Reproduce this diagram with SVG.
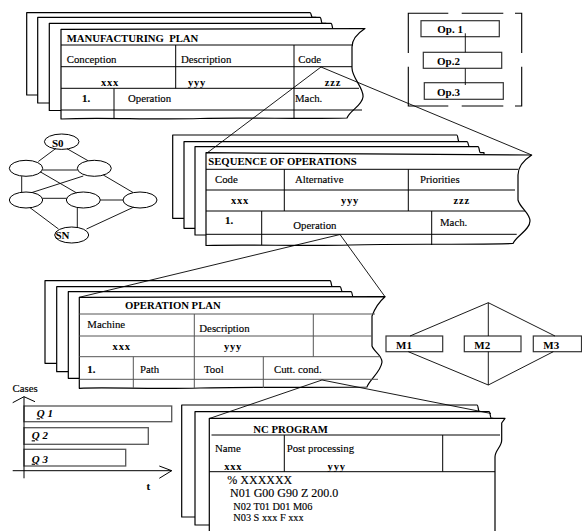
<svg xmlns="http://www.w3.org/2000/svg" width="582" height="531" viewBox="0 0 582 531">
<style>
  .sheet{fill:#fff;stroke:#000;stroke-width:1.2;stroke-linejoin:round}
  .grid{stroke:#000;stroke-width:1;fill:none}
  .gg{stroke:#555;stroke-width:1;fill:none}
  .conn{stroke:#000;stroke-width:0.9;fill:none}
  .node{fill:#fff;stroke:#000;stroke-width:1}
  .box{fill:#fff;stroke:#333;stroke-width:1.2}
  text{font-family:"Liberation Serif","Times New Roman",serif;fill:#000}
  .lb{font-size:10.8px;stroke:#000;stroke-width:0.15}
  .ttl{font-size:10.7px;font-weight:bold}
  .v{font-size:10.5px;font-weight:bold;letter-spacing:0.8px;text-anchor:middle}
  .bd{font-size:11px;font-weight:bold}
  .nc1{font-size:12px;stroke:#000;stroke-width:0.15}
  .nc2{font-size:10.3px;stroke:#000;stroke-width:0.15}
</style>

<!-- Manufacturing plan: stacked sheets -->
<g id="manufacturing-plan">
  <path class="sheet" d="M26.7,95 L26.7,12.7 L310,12.7 C311.5,12.7 311,17.3 312.5,17.3 L316,17.3 L316,95 Z"/>
  <path class="sheet" d="M37.7,103 L37.7,17.3 L320,17.3 C321.5,17.3 321,23.3 322.5,23.3 L326,23.3 L326,103 Z"/>
  <path class="sheet" d="M49.3,110.5 L49.3,23.3 L331,23.3 C332.5,23.3 332,29.3 333.5,29.3 L337,29.3 L337,110.5 Z"/>
  <path class="sheet" d="M61,29.3 L365,28.5 C358,33 352,40 352,47 L352,68 C352,78 364,88 363,97 C362,106 350,110 347,118 C300,119.5 250,117 200,118.5 C150,120 100,117 61,119 Z"/>
  <path class="grid" d="M61,45 H353 M61,66.7 H352 M61,88.3 H359 M61,110 H362 M175.7,45 V88.3 M294,45 V118 M114,88.3 V118"/>
  <text class="ttl" x="66.7" y="41.7">MANUFACTURING&#160; PLAN</text>
  <text class="lb" x="66.7" y="62.7">Conception</text>
  <text class="lb" x="181" y="62.7">Description</text>
  <text class="lb" x="298.3" y="62.7">Code</text>
  <text class="v" x="110" y="85.5">xxx</text>
  <text class="v" x="197" y="85.5">yyy</text>
  <text class="v" x="333" y="85.5">zzz</text>
  <text class="lb" x="82" y="101.5" font-weight="bold">1.</text>
  <text class="lb" x="128" y="101.5">Operation</text>
  <text class="lb" x="295" y="101.5">Mach.</text>
</g>

<!-- Sequence of operations -->
<g id="sequence-of-operations">
  <path class="sheet" d="M172.7,218.3 L172.7,135 L456.7,135 C458.2,135 457.7,141.7 459.2,141.7 L462,141.7 L462,218.3 Z"/>
  <path class="sheet" d="M184,228.3 L184,141.7 L467,141.7 C468.5,141.7 468,146.7 469.5,146.7 L472,146.7 L472,228.3 Z"/>
  <path class="sheet" d="M195,235 L195,146.7 L478,146.7 C479.5,146.7 479,152.7 480.5,152.7 L484,152.7 L484,235 Z"/>
  <path class="sheet" d="M206,152.7 L531.7,155 C524,160 518,166 518,175 L518,200 C520,208 530,213 530,221 C530,230 516,236 513,243.5 C450,245 400,243.5 350,245 C300,246.5 250,244 206,245.5 Z"/>
  <path class="grid" d="M206,169.3 H518 M206,190 H515 M206,211 H525 M206,234.3 H516.7 M284.3,169.3 V211 M408.3,169.3 V211 M261.7,211 V245 M431.7,211 V245"/>
  <text class="ttl" x="208.3" y="165">SEQUENCE OF OPERATIONS</text>
  <text class="lb" x="215" y="183.3">Code</text>
  <text class="lb" x="295" y="183.3">Alternative</text>
  <text class="lb" x="420" y="183.3">Priorities</text>
  <text class="v" x="240" y="204">xxx</text>
  <text class="v" x="350" y="204">yyy</text>
  <text class="v" x="461.7" y="204">zzz</text>
  <text class="lb" x="225" y="224.3" font-weight="bold">1.</text>
  <text class="lb" x="293.3" y="229">Operation</text>
  <text class="lb" x="440" y="225.7">Mach.</text>
</g>

<!-- Operation plan -->
<g id="operation-plan">
  <path class="sheet" d="M45,363.3 L45,280.7 L330,280.7 C331.5,280.7 331,286.7 332.5,286.7 L335,286.7 L335,363.3 Z"/>
  <path class="sheet" d="M56.7,371.7 L56.7,286.7 L340,286.7 C341.5,286.7 341,291.7 342.5,291.7 L345,291.7 L345,371.7 Z"/>
  <path class="sheet" d="M68.3,378.3 L68.3,291.7 L351,291.7 C352.5,291.7 352,297.3 353.5,297.3 L357,297.3 L357,378.3 Z"/>
  <path class="sheet" d="M79.3,297.3 L385,296.7 C380,301 375,308 372,316 L372,346 C374,352 382,355 382,362 C381,372 369,380 367,387 C300,388 250,386.5 200,388 C150,389.5 110,387 79.3,388.3 Z"/>
  <path class="gg" d="M79.3,314 H375 M79.3,336 H372 M79.3,356.7 H381 M79.3,379.3 H378 M194.3,314 V388 M313.3,314 V356.7 M133.3,356.7 V388 M263.3,356.7 V388"/>
  <text class="ttl" x="125" y="309.3">OPERATION PLAN</text>
  <text class="lb" x="87.3" y="328.3">Machine</text>
  <text class="lb" x="199.3" y="331.7">Description</text>
  <text class="v" x="121.7" y="350">xxx</text>
  <text class="v" x="233" y="350">yyy</text>
  <text class="lb" x="87.3" y="373" font-weight="bold">1.</text>
  <text class="lb" x="140" y="373">Path</text>
  <text class="lb" x="204" y="373">Tool</text>
  <text class="lb" x="274" y="373">Cutt. cond.</text>
</g>

<!-- NC program -->
<g id="nc-program">
  <path class="sheet" d="M181.7,517 L181.7,405 L477,405 C478.5,405 478,411.7 479.5,411.7 L483,411.7 L483,517 Z"/>
  <path class="sheet" d="M195,525 L195,411.7 L489,411.7 C490.5,411.7 490,418.3 491.5,418.3 L493,418.3 L493,525 Z"/>
  <path class="sheet" d="M209.3,418.3 L505,418.3 L501.7,423 L501.7,440 C501.7,447 495,450 495,457 L495,536 L209.3,536 Z"/>
  <path class="grid" d="M211.5,435 H500 M209.3,471.7 H495 M284.3,435 V471.7 M442.7,435 V471.7"/>
  <text class="ttl" x="253.3" y="433.3">NC PROGRAM</text>
  <text class="lb" x="215" y="451.7">Name</text>
  <text class="lb" x="286.7" y="451.7">Post processing</text>
  <text class="v" x="233.3" y="470">xxx</text>
  <text class="v" x="336.7" y="470">yyy</text>
  <text class="nc1" x="227.3" y="483.6">% XXXXXX</text>
  <text class="nc1" x="230" y="497.3">N01 G00 G90 Z 200.0</text>
  <text class="nc2" x="233.3" y="509.6">N02 T01 D01 M06</text>
  <text class="nc2" x="233.3" y="521.2">N03 S xxx F xxx</text>
</g>

<!-- Operation chain in brackets -->
<g id="op-bracket" fill="none" stroke="#000" stroke-width="1.1">
  <path d="M448.3,13.3 H408.3 V53 M408.3,66.7 V106 H448.3 M461.7,13.3 H503.3 M461.7,106 H503.3 M515,13.3 H521.7 V53 M521.7,66.7 V106 H515"/>
</g>
<g id="op1"><rect class="box" x="421" y="20.7" width="78.3" height="16"/><text class="bd" x="437.3" y="33.3">Op. 1</text></g>
<g id="op2"><rect class="box" x="423.3" y="52.3" width="78.4" height="16"/><text class="bd" x="437" y="65">Op.2</text></g>
<g id="op3"><rect class="box" x="424.3" y="82.7" width="79" height="16.6"/><text class="bd" x="437" y="96">Op.3</text></g>

<!-- State graph -->
<g id="s0"><ellipse class="node" cx="61.7" cy="141.7" rx="17.3" ry="7.7"/><text class="bd" x="52" y="146.5">S0</text></g>
<g id="n21"><ellipse class="node" cx="26" cy="168.3" rx="16.7" ry="8"/></g>
<g id="n22"><ellipse class="node" cx="94.3" cy="168.3" rx="17" ry="8"/></g>
<g id="n31"><ellipse class="node" cx="26" cy="200" rx="16.7" ry="8"/></g>
<g id="n32"><ellipse class="node" cx="83.3" cy="200" rx="17" ry="8"/></g>
<g id="n33"><ellipse class="node" cx="140" cy="200" rx="17" ry="8"/></g>
<g id="sn"><ellipse class="node" cx="71.7" cy="235" rx="17" ry="8"/><text class="bd" x="55.5" y="238.5">SN</text></g>

<!-- Machine alternatives -->
<g id="m1"><rect class="box" x="386" y="336" width="56.7" height="15.7"/><text class="bd" x="396" y="349">M1</text></g>
<g id="m2"><rect class="box" x="464.3" y="336" width="56.7" height="15.7"/><text class="bd" x="474.3" y="349">M2</text></g>
<g id="m3"><rect class="box" x="533.3" y="336" width="48.2" height="15.7"/><text class="bd" x="543.3" y="349">M3</text></g>

<!-- Case timeline -->
<g id="cases-chart">
  <text class="lb" x="12.5" y="391.7">Cases</text>
  <rect x="24" y="406" width="147.7" height="15.7" fill="#fff" stroke="#555" stroke-width="1.3"/>
  <rect x="24" y="427.7" width="124.3" height="16.6" fill="#fff" stroke="#555" stroke-width="1.3"/>
  <rect x="24" y="449.3" width="101.7" height="16.7" fill="#fff" stroke="#555" stroke-width="1.3"/>
  <text class="bd" x="36.7" y="417.3" font-style="italic" font-size="11.5"><tspan text-decoration="underline">Q</tspan> 1</text>
  <text class="bd" x="31.7" y="439.3" font-style="italic" font-size="11.5"><tspan text-decoration="underline">Q</tspan> 2</text>
  <text class="bd" x="31.7" y="462.7" font-style="italic" font-size="11.5"><tspan text-decoration="underline">Q</tspan> 3</text>
  <path d="M24,396.7 V478.3 M12.7,470.7 H171.7 M12.7,402.7 L24,396.7 L35,401.7 M159.3,466 L171.7,470.7 L159.3,478.3" fill="none" stroke="#000" stroke-width="1"/>
  <text class="lb" x="146.5" y="490" font-weight="bold">t</text>
</g>

<!-- Connectors -->
<g id="connectors">
  <g id="graph-edges" class="conn">
    <path d="M56,148.3 L38.3,161.5 M67,148.7 L88,160.7 M42.5,170 H77.5 M21.7,176.2 V192 M40,171.7 L76.7,193 M83.3,176 L32,192.5 M103.3,175 L133,192.5 M42.5,198.3 H66.5 M100.2,200 H123 M30,207.7 L58.5,229 M77.3,208 V227 M134,207 L86.5,229"/>
  </g>
  <g id="op-links" class="conn">
    <path d="M465.3,33.3 V52.3 M465.3,68.3 V85"/>
  </g>
  <g id="machine-links" class="conn">
    <path d="M488.3,302.7 L410,336 M488.3,302.7 V336 M488.3,302.7 L555,336 M488.3,385 L408.3,351.7 M488.3,385 V351.7 M488.3,385 L553.3,351.7"/>
  </g>
  <g id="detail-links" class="conn">
    <path d="M321,67 L207,153 M321,67 L531.7,155"/>
    <path d="M340,234.5 L79.3,297.3 M340,234.5 L385,296.7"/>
    <path d="M322,380 L210,418.3 M322,380 L491,413.5"/>
  </g>
</g>
</svg>
